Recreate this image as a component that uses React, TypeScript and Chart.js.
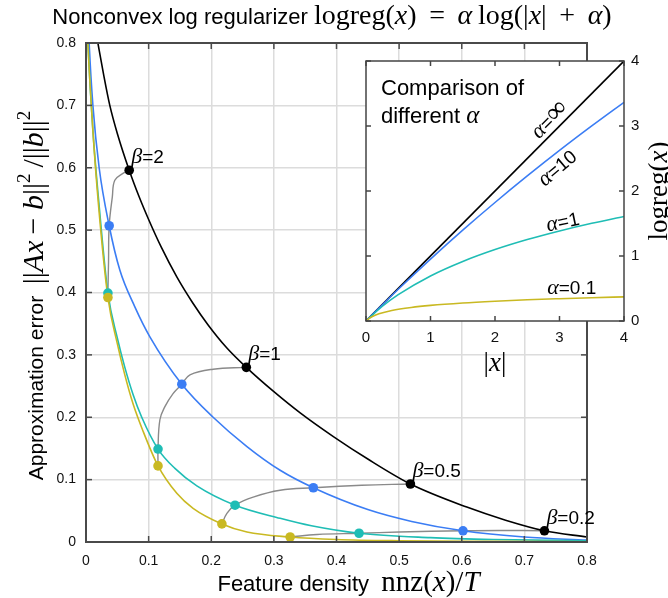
import React, { useEffect, useRef } from 'react';
import { Chart, registerables } from 'chart.js';

Chart.register(...registerables);

const SANS = '"Liberation Sans", Arial, Helvetica, sans-serif';
const SERIF = '"Liberation Serif", "Times New Roman", serif';

// ---------- main chart data (feature density vs approximation error) ----------
const blackX = [0.012, 0.019, 0.028, 0.038, 0.05, 0.069, 0.085, 0.1, 0.12, 0.145, 0.17, 0.195, 0.225, 0.256, 0.3, 0.342, 0.395, 0.45, 0.518, 0.608, 0.67, 0.732, 0.8];
const blackY = [0.84, 0.8, 0.75, 0.7, 0.655, 0.596, 0.553, 0.517, 0.473, 0.425, 0.384, 0.348, 0.311, 0.28, 0.241, 0.207, 0.169, 0.133, 0.093, 0.056, 0.035, 0.018, 0.008];

const blueX = [0.003, 0.005, 0.011, 0.021, 0.037, 0.054, 0.078, 0.102, 0.153, 0.203, 0.257, 0.31, 0.363, 0.45, 0.52, 0.602, 0.7, 0.8];
const blueY = [0.85, 0.8, 0.7, 0.6, 0.507, 0.436, 0.377, 0.329, 0.253, 0.2, 0.153, 0.115, 0.087, 0.052, 0.033, 0.018, 0.008, 0.003];

const tealX = [0.001, 0.003, 0.011, 0.02, 0.035, 0.05, 0.062, 0.075, 0.089, 0.115, 0.142, 0.177, 0.238, 0.31, 0.36, 0.436, 0.55, 0.65, 0.8];
const tealY = [0.85, 0.8, 0.66, 0.55, 0.399, 0.327, 0.28, 0.237, 0.2, 0.149, 0.118, 0.09, 0.059, 0.038, 0.026, 0.014, 0.007, 0.004, 0.002];

const yellowX = [0.001, 0.003, 0.011, 0.02, 0.035, 0.05, 0.062, 0.075, 0.091, 0.115, 0.145, 0.171, 0.217, 0.257, 0.326, 0.4, 0.5, 0.65, 0.8];
const yellowY = [0.85, 0.8, 0.66, 0.54, 0.392, 0.318, 0.268, 0.222, 0.178, 0.122, 0.078, 0.054, 0.029, 0.016, 0.008, 0.004, 0.002, 0.001, 0.0005];

// beta markers (beta = 2, 1, 0.5, 0.2)
const betaLabels = ['2', '1', '0.5', '0.2'];
const blackDotX = [0.069, 0.256, 0.518, 0.732];
const blackDotY = [0.596, 0.28, 0.093, 0.018];
const blueDotX = [0.037, 0.153, 0.363, 0.602];
const blueDotY = [0.507, 0.253, 0.087, 0.018];
const tealDotX = [0.035, 0.115, 0.238, 0.436];
const tealDotY = [0.399, 0.149, 0.059, 0.014];
const yellowDotX = [0.035, 0.115, 0.217, 0.326];
const yellowDotY = [0.392, 0.122, 0.029, 0.008];

// iso-beta connecting curves
const iso2X = [0.035, 0.035, 0.036, 0.037, 0.042, 0.046, 0.059, 0.069];
const iso2Y = [0.392, 0.399, 0.45, 0.507, 0.553, 0.58, 0.591, 0.596];
const iso1X = [0.115, 0.115, 0.118, 0.126, 0.139, 0.153, 0.166, 0.203, 0.256];
const iso1Y = [0.122, 0.149, 0.196, 0.217, 0.238, 0.253, 0.268, 0.277, 0.28];
const iso05X = [0.217, 0.225, 0.238, 0.267, 0.31, 0.363, 0.44, 0.518];
const iso05Y = [0.029, 0.046, 0.059, 0.072, 0.083, 0.087, 0.091, 0.093];
const iso02X = [0.326, 0.369, 0.436, 0.5, 0.602, 0.66, 0.732];
const iso02Y = [0.008, 0.012, 0.014, 0.016, 0.018, 0.0185, 0.018];

const mainTicks = [0, 0.1, 0.2, 0.3, 0.4, 0.5, 0.6, 0.7, 0.8];

// ---------- inset data (logreg curves) ----------
const infX = [0, 4];
const infY = [0, 4];
const a10X = [0, 0.5, 1, 1.5, 2, 2.5, 3, 3.5, 4];
const a10Y = [0, 0.488, 0.953, 1.398, 1.823, 2.231, 2.624, 3.001, 3.365];
const a1X = [0, 0.25, 0.5, 1, 1.5, 2, 2.5, 3, 3.5, 4];
const a1Y = [0, 0.223, 0.405, 0.693, 0.916, 1.099, 1.253, 1.386, 1.504, 1.609];
const a01X = [0, 0.05, 0.1, 0.2, 0.4, 0.7, 1, 1.5, 2, 2.5, 3, 3.5, 4];
const a01Y = [0, 0.041, 0.069, 0.11, 0.161, 0.208, 0.24, 0.277, 0.304, 0.326, 0.343, 0.358, 0.371];
const insetTicks = [0, 1, 2, 3, 4];
const alphaLabels = ['∞', '10', '1', '0.1'];

const BLUE = '#3b7df4';
const TEAL = '#1fbdb5';
const YELLOW = '#c9b922';
const GRAY = '#8a8a8a';

const pts = (xs: number[], ys: number[]) => xs.map((x, i) => ({ x, y: ys[i] }));

type Seg = { t: string; f: string; dy?: number };

function richWidth(ctx: CanvasRenderingContext2D, segs: Seg[]) {
  let w = 0;
  for (const s of segs) {
    ctx.font = s.f;
    w += ctx.measureText(s.t).width;
  }
  return w;
}

function drawRich(ctx: CanvasRenderingContext2D, segs: Seg[], x: number, y: number, align: 'left' | 'center' = 'left', color = '#000') {
  const w = richWidth(ctx, segs);
  let cx = align === 'center' ? x - w / 2 : x;
  ctx.fillStyle = color;
  ctx.textAlign = 'left';
  ctx.textBaseline = 'alphabetic';
  for (const s of segs) {
    ctx.font = s.f;
    ctx.fillText(s.t, cx, y + (s.dy || 0));
    cx += ctx.measureText(s.t).width;
  }
}

const sans = (n: number) => `${n}px ${SANS}`;
const serif = (n: number) => `${n}px ${SERIF}`;
const ital = (n: number) => `italic ${n}px ${SERIF}`;

function line(ctx: CanvasRenderingContext2D, x1: number, y1: number, x2: number, y2: number) {
  ctx.beginPath();
  ctx.moveTo(x1, y1);
  ctx.lineTo(x2, y2);
  ctx.stroke();
}

const TS = '\u2009'; // thin space used for math spacing

const mainPlugin = {
  id: 'mainDeco',
  afterDraw(chart: any) {
    const { ctx, chartArea: a, scales } = chart;
    const xs = scales.x;
    const ys = scales.y;
    ctx.save();
    // inward ticks
    ctx.strokeStyle = '#4a4a4a';
    ctx.lineWidth = 1.5;
    for (const v of mainTicks) {
      const px = xs.getPixelForValue(v);
      line(ctx, px, a.bottom, px, a.bottom - 6);
      line(ctx, px, a.top, px, a.top + 6);
      const py = ys.getPixelForValue(v);
      line(ctx, a.left, py, a.left + 6, py);
      line(ctx, a.right, py, a.right - 6, py);
    }
    // frame
    ctx.lineWidth = 2;
    ctx.strokeRect(a.left, a.top, a.right - a.left, a.bottom - a.top);

    // title
    const m = 28;
    drawRich(ctx, [
      { t: 'Nonconvex log regularizer ', f: sans(22) },
      { t: 'logreg(', f: serif(m) },
      { t: 'x', f: ital(m) },
      { t: ') ' + TS + '= ' + TS, f: serif(m) },
      { t: 'α', f: ital(m) },
      { t: TS + 'log(|', f: serif(m) },
      { t: 'x', f: ital(m) },
      { t: '| ' + TS + '+ ' + TS, f: serif(m) },
      { t: 'α', f: ital(m) },
      { t: ')', f: serif(m) },
    ], 332, 24, 'center');

    // x axis title
    drawRich(ctx, [
      { t: 'Feature density  ', f: sans(22) },
      { t: 'nnz(', f: serif(29) },
      { t: 'x', f: ital(29) },
      { t: ')/', f: serif(29) },
      { t: 'T', f: ital(29) },
    ], (a.left + a.right) / 2 + 12, a.bottom + 49, 'center');

    // y axis title (rotated)
    ctx.save();
    ctx.translate(43, (a.top + a.bottom) / 2 + 3);
    ctx.rotate(-Math.PI / 2);
    const ym = 30;
    drawRich(ctx, [
      { t: 'Approximation error  ', f: sans(21) },
      { t: '||', f: serif(ym) },
      { t: 'A', f: ital(ym) },
      { t: 'x', f: ital(ym) },
      { t: TS + '− ', f: serif(ym) },
      { t: 'b', f: ital(ym) },
      { t: '||', f: serif(ym) },
      { t: '2', f: serif(19), dy: -13 },
      { t: TS + '/||', f: serif(ym) },
      { t: 'b', f: ital(ym) },
      { t: '||', f: serif(ym) },
      { t: '2', f: serif(19), dy: -13 },
    ], 0, 0, 'center');
    ctx.restore();

    // beta labels next to black markers
    betaLabels.forEach((lab, i) => {
      const px = xs.getPixelForValue(blackDotX[i]);
      const py = ys.getPixelForValue(blackDotY[i]);
      drawRich(ctx, [
        { t: 'β', f: ital(22) },
        { t: '=' + lab, f: sans(19) },
      ], px + 2, py - 7);
    });
    ctx.restore();
  },
};

const insetPlugin = {
  id: 'insetDeco',
  beforeDraw(chart: any) {
    const { ctx, chartArea: a } = chart;
    ctx.save();
    ctx.fillStyle = '#fff';
    ctx.fillRect(a.left, a.top, a.right - a.left, a.bottom - a.top);
    ctx.restore();
  },
  afterDraw(chart: any) {
    const { ctx, chartArea: a, scales } = chart;
    const xs = scales.x;
    const ys = scales.y;
    ctx.save();
    ctx.strokeStyle = '#444';
    ctx.lineWidth = 1.5;
    for (const v of insetTicks) {
      const px = xs.getPixelForValue(v);
      line(ctx, px, a.bottom, px, a.bottom - 5);
      line(ctx, px, a.top, px, a.top + 5);
      const py = ys.getPixelForValue(v);
      line(ctx, a.left, py, a.left + 5, py);
      line(ctx, a.right, py, a.right - 5, py);
    }
    ctx.strokeRect(a.left, a.top, a.right - a.left, a.bottom - a.top);

    // heading text
    drawRich(ctx, [{ t: 'Comparison of', f: sans(22) }], a.left + 15, a.top + 34);
    drawRich(ctx, [
      { t: 'different ', f: sans(22) },
      { t: 'α', f: ital(25) },
    ], a.left + 15, a.top + 62);

    // alpha labels along the curves
    const anchors = [
      [2.85, 3.09, -45],
      [2.97, 2.35, -40],
      [3.05, 1.52, -12],
      [3.19, 0.51, 0],
    ];
    alphaLabels.forEach((lab, i) => {
      const [dx, dy, ang] = anchors[i];
      const px = xs.getPixelForValue(dx);
      const py = ys.getPixelForValue(dy);
      ctx.save();
      ctx.translate(px, py);
      ctx.rotate((ang * Math.PI) / 180);
      const segs: Seg[] = lab === '∞'
        ? [{ t: 'α', f: ital(22) }, { t: '=', f: sans(19) }, { t: '∞', f: serif(28) }]
        : [{ t: 'α', f: ital(22) }, { t: '=' + lab, f: sans(19) }];
      drawRich(ctx, segs, 0, 6, 'center');
      ctx.restore();
    });

    // axis titles
    drawRich(ctx, [
      { t: '|', f: serif(27) },
      { t: 'x', f: ital(27) },
      { t: '|', f: serif(27) },
    ], (a.left + a.right) / 2, a.bottom + 50, 'center');

    ctx.save();
    ctx.translate(a.right + 43, (a.top + a.bottom) / 2);
    ctx.rotate(-Math.PI / 2);
    drawRich(ctx, [
      { t: 'logreg(', f: serif(27) },
      { t: 'x', f: ital(27) },
      { t: ')', f: serif(27) },
    ], 0, 0, 'center');
    ctx.restore();
    ctx.restore();
  },
};

const fmt1 = (v: any) => (Number(v) === 0 ? '0' : Number(v).toFixed(1));

export default function App() {
  const mainRef = useRef<HTMLCanvasElement | null>(null);
  const insetRef = useRef<HTMLCanvasElement | null>(null);

  useEffect(() => {
    const curve = (xs: number[], ys: number[], color: string) => ({
      data: pts(xs, ys),
      borderColor: color,
      borderWidth: 1.6,
      pointRadius: 0,
      cubicInterpolationMode: 'monotone' as const,
      order: 2,
    });
    const iso = (xs: number[], ys: number[]) => ({
      data: pts(xs, ys),
      borderColor: GRAY,
      borderWidth: 1.4,
      pointRadius: 0,
      tension: 0.4,
      order: 3,
    });
    const dots = (xs: number[], ys: number[], color: string) => ({
      data: pts(xs, ys),
      showLine: false,
      pointRadius: 4.8,
      pointBackgroundColor: color,
      pointBorderWidth: 0,
      borderColor: color,
      order: 0,
    });

    const main = new Chart(mainRef.current as HTMLCanvasElement, {
      type: 'line',
      data: {
        datasets: [
          iso(iso2X, iso2Y),
          iso(iso1X, iso1Y),
          iso(iso05X, iso05Y),
          iso(iso02X, iso02Y),
          curve(yellowX, yellowY, YELLOW),
          curve(tealX, tealY, TEAL),
          curve(blueX, blueY, BLUE),
          curve(blackX, blackY, '#000'),
          dots(yellowDotX, yellowDotY, YELLOW),
          dots(tealDotX, tealDotY, TEAL),
          dots(blueDotX, blueDotY, BLUE),
          dots(blackDotX, blackDotY, '#000'),
        ] as any,
      },
      options: {
        responsive: false,
        animation: false,
        layout: { padding: { left: 0, top: 43, right: 81, bottom: 0 } },
        plugins: { legend: { display: false }, tooltip: { enabled: false }, title: { display: false } },
        scales: {
          x: {
            type: 'linear',
            min: 0,
            max: 0.8,
            afterFit: (s: any) => { s.height = 56; },
            ticks: { stepSize: 0.1, padding: 11, maxRotation: 0, font: { family: SANS, size: 14 }, color: '#111', callback: fmt1 },
            grid: { color: '#dcdcdc', lineWidth: 1.5, drawTicks: false },
            border: { display: false },
          },
          y: {
            type: 'linear',
            min: 0,
            max: 0.8,
            afterFit: (s: any) => { s.width = 86; },
            ticks: { stepSize: 0.1, padding: 10, font: { family: SANS, size: 14 }, color: '#111', callback: fmt1 },
            grid: { color: '#dcdcdc', lineWidth: 1.5, drawTicks: false },
            border: { display: false },
          },
        },
      } as any,
      plugins: [mainPlugin],
    });

    const insetLine = (xs: number[], ys: number[], color: string) => ({
      data: pts(xs, ys),
      borderColor: color,
      borderWidth: 1.6,
      pointRadius: 0,
      cubicInterpolationMode: 'monotone' as const,
    });

    const inset = new Chart(insetRef.current as HTMLCanvasElement, {
      type: 'line',
      data: {
        datasets: [
          insetLine(a01X, a01Y, YELLOW),
          insetLine(a1X, a1Y, TEAL),
          insetLine(a10X, a10Y, BLUE),
          insetLine(infX, infY, '#000'),
        ] as any,
      },
      options: {
        responsive: false,
        animation: false,
        layout: { padding: { left: 36, top: 21, right: 0, bottom: 0 } },
        plugins: { legend: { display: false }, tooltip: { enabled: false } },
        scales: {
          x: {
            type: 'linear',
            min: 0,
            max: 4,
            afterFit: (s: any) => { s.height = 64; },
            ticks: { stepSize: 1, padding: 8, maxRotation: 0, font: { family: SANS, size: 15 }, color: '#111' },
            grid: { display: false, drawTicks: false },
            border: { display: false },
          },
          y: {
            type: 'linear',
            position: 'right',
            min: 0,
            max: 4,
            afterFit: (s: any) => { s.width = 44; },
            ticks: { stepSize: 1, padding: 7, font: { family: SANS, size: 15 }, color: '#111' },
            grid: { display: false, drawTicks: false },
            border: { display: false },
          },
        },
      } as any,
      plugins: [insetPlugin],
    });

    return () => {
      main.destroy();
      inset.destroy();
    };
  }, []);

  return (
    <div style={{ position: 'absolute', left: 0, top: 0, width: 668, height: 598, background: '#fff' }}>
      <canvas ref={mainRef} width={668} height={598} style={{ position: 'absolute', left: 0, top: 0, width: 668, height: 598 }} />
      <canvas ref={insetRef} width={338} height={345} style={{ position: 'absolute', left: 330, top: 40, width: 338, height: 345 }} />
    </div>
  );
}
